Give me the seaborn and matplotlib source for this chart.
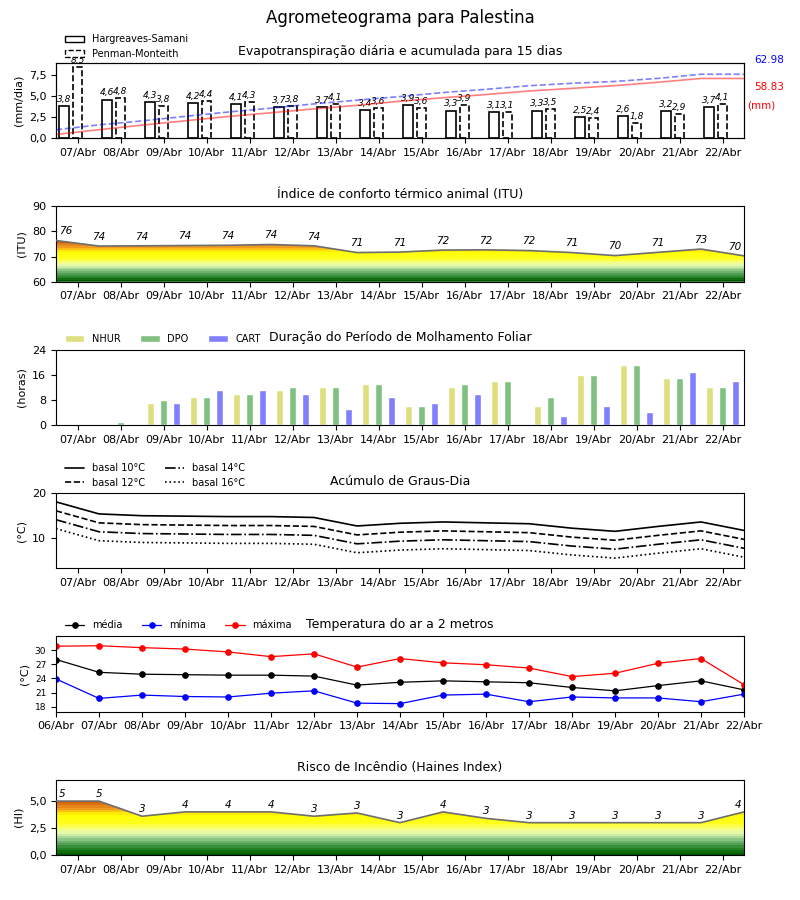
import numpy as np
import pandas as pd
import matplotlib
matplotlib.use('Agg')
import matplotlib.pyplot as plt
import seaborn as sns
from matplotlib.colors import LinearSegmentedColormap
from matplotlib.patches import Polygon, Patch
from matplotlib.ticker import FuncFormatter

# ---------------- data ----------------
days = ['07/Abr', '08/Abr', '09/Abr', '10/Abr', '11/Abr', '12/Abr', '13/Abr', '14/Abr',
        '15/Abr', '16/Abr', '17/Abr', '18/Abr', '19/Abr', '20/Abr', '21/Abr', '22/Abr']
temp_days = ['06/Abr'] + days

et_hs = [3.8, 4.6, 4.3, 4.2, 4.1, 3.7, 3.7, 3.4, 3.9, 3.3, 3.1, 3.3, 2.5, 2.6, 3.2, 3.7]
et_pm = [8.5, 4.8, 3.8, 4.4, 4.3, 3.8, 4.1, 3.6, 3.6, 3.9, 3.1, 3.5, 2.4, 1.8, 2.9, 4.1]
cum_hs = [3.9, 8.6, 13.0, 17.3, 21.5, 25.2, 29.0, 32.5, 36.5, 39.9, 43.1, 46.5, 49.1, 51.8, 55.1, 58.83]
cum_pm = [8.5, 13.3, 17.2, 21.6, 25.9, 29.7, 33.9, 37.5, 41.1, 45.0, 48.2, 51.7, 54.1, 55.9, 58.9, 62.98]

itu = [76.4, 74.2, 74.3, 74.4, 74.5, 74.8, 74.3, 71.6, 71.8, 72.6, 72.7, 72.4, 71.6, 70.4, 71.7, 73.0, 70.3]

nhur = [0, 0, 7, 9, 10, 11, 12, 13, 6, 12, 14, 6, 16, 19, 15, 12]
dpo = [0, 1, 8, 9, 10, 12, 12, 13, 6, 13, 14, 9, 16, 19, 15, 12]
cart = [0, 0, 7, 11, 11, 10, 5, 9, 7, 10, 0, 3, 6, 4, 17, 14]

gd10 = [18.0, 15.3, 14.9, 14.8, 14.7, 14.7, 14.5, 12.6, 13.2, 13.5, 13.3, 13.1, 12.1, 11.4, 12.5, 13.5, 11.6]
gd12 = [16.0, 13.3, 12.9, 12.8, 12.7, 12.7, 12.5, 10.6, 11.2, 11.5, 11.3, 11.1, 10.1, 9.4, 10.5, 11.5, 9.6]
gd14 = [14.0, 11.3, 10.9, 10.8, 10.7, 10.7, 10.5, 8.6, 9.2, 9.5, 9.3, 9.1, 8.1, 7.4, 8.5, 9.5, 7.6]
gd16 = [12.0, 9.3, 8.9, 8.8, 8.7, 8.7, 8.5, 6.6, 7.2, 7.5, 7.3, 7.1, 6.1, 5.4, 6.5, 7.5, 5.6]

t_med = [28.0, 25.3, 24.9, 24.8, 24.7, 24.7, 24.5, 22.6, 23.2, 23.5, 23.3, 23.1, 22.1, 21.4, 22.5, 23.5, 21.6]
t_min = [23.9, 19.8, 20.5, 20.2, 20.1, 20.9, 21.4, 18.8, 18.7, 20.5, 20.7, 19.1, 20.1, 19.9, 19.9, 19.1, 20.7]
t_max = [30.8, 30.9, 30.5, 30.2, 29.6, 28.6, 29.2, 26.4, 28.2, 27.3, 26.9, 26.2, 24.4, 25.1, 27.2, 28.2, 22.7]

haines = [5.0, 5.0, 3.6, 4.0, 4.0, 4.0, 3.6, 3.9, 3.0, 4.0, 3.4, 3.0, 3.0, 3.0, 3.0, 3.0, 4.0]

# ---------------- style ----------------
sns.set_style('ticks', rc={'axes.edgecolor': 'black', 'xtick.color': 'black',
                           'ytick.color': 'black', 'axes.labelcolor': 'black',
                           'text.color': 'black', 'axes.linewidth': 1.0})
plt.rcParams['font.family'] = ['DejaVu Sans']

def br(v, _=None):
    return f"{v:.1f}".replace('.', ',')

nodes = [(0.00, '#005a00'), (0.08, '#1f7f1f'), (0.16, '#47994a'), (0.25, '#82c07f'),
         (0.33, '#c2e6a6'), (0.40, '#ecfca8'), (0.48, '#fbff70'), (0.55, '#ffff20'),
         (0.72, '#ffff00'), (0.77, '#ffcc10'), (0.82, '#f2a020'), (0.90, '#e07818'),
         (1.00, '#c85000')]
cmap = LinearSegmentedColormap.from_list('risk', nodes, N=24)

def gradient_fill(ax, x, y, base, top):
    verts = [(x[0], base)] + list(zip(x, y)) + [(x[-1], base)]
    poly = Polygon(verts, closed=True, facecolor='none', edgecolor='none')
    ax.add_patch(poly)
    grad = np.linspace(0, 1, 256).reshape(-1, 1)
    im = ax.imshow(grad, extent=[x[0], x[-1], base, top], origin='lower',
                   aspect='auto', cmap=cmap, zorder=1, interpolation='nearest')
    im.set_clip_path(poly)

xd = np.arange(len(days))
xb = np.arange(len(days) + 1) - 0.5

fig, axes = plt.subplots(6, 1, figsize=(8, 9), dpi=100)
fig.subplots_adjust(left=0.07, right=0.93, bottom=0.05, top=0.93, hspace=0.9)
fig.suptitle('Agrometeograma para Palestina', fontsize=12, y=0.99)

def common_x(ax, ticks, labels):
    ax.set_xlim(-0.5, 15.5)
    ax.set_xticks(ticks)
    ax.set_xticklabels(labels, fontsize=8)
    ax.tick_params(axis='y', labelsize=8)
    ax.set_xlabel('')

tfs = 9
lfs = 7
LX = 0.0044

# ---- Panel 1: Evapotranspiração ----
ax = axes[0]
ax.bar(xd - 0.31, et_hs, width=0.22, facecolor='white', edgecolor='black', lw=1.2, zorder=2)
ax.bar(xd, et_pm, width=0.22, facecolor='white', edgecolor='black', lw=1.2, ls='--', zorder=2)
for x, v in zip(xd - 0.31, et_hs):
    ax.annotate(br(v), (x, v), xytext=(0, 1.5), textcoords='offset points',
                ha='center', va='bottom', fontsize=6.5, style='italic')
for x, v in zip(xd, et_pm):
    ax.annotate(br(v), (x, v), xytext=(0, 1.5), textcoords='offset points',
                ha='center', va='bottom', fontsize=6.5, style='italic')
ax.set_ylim(0, 8.925)
ax.set_yticks([0, 2.5, 5.0, 7.5])
ax.yaxis.set_major_formatter(FuncFormatter(br))
ax.set_ylabel('(mm/dia)', fontsize=8)
common_x(ax, xd, days)
ax.set_title('Evapotranspiração diária e acumulada para 15 dias', fontsize=tfs)
handles = [Patch(facecolor='white', edgecolor='black', label='Hargreaves-Samani'),
           Patch(facecolor='white', edgecolor='black', linestyle='--', label='Penman-Monteith')]
ax.legend(handles=handles, loc='lower left', bbox_to_anchor=(LX, 0.973), frameon=False,
          fontsize=lfs, borderaxespad=0.2)
ax2 = ax.twinx()
xcum = np.append(xd - 0.5, 15.5)
sns.lineplot(x=xcum, y=cum_pm + [cum_pm[-1]], ax=ax2, color='blue', alpha=0.5, ls='--', lw=1.2)
sns.lineplot(x=xcum, y=cum_hs + [cum_hs[-1]], ax=ax2, color='red', alpha=0.5, lw=1.2)
ax2.set_ylim(0, 74)
ax2.set_yticks([])
ax2.set_ylabel('')
ax2.set_xlim(-0.5, 15.5)
ax.text(1.015, 1.04, f"{cum_pm[-1]:.2f}", transform=ax.transAxes, color='blue', fontsize=7.5,
        ha='left', va='center')
ax.text(1.015, 0.68, f"{cum_hs[-1]:.2f}", transform=ax.transAxes, color='red', fontsize=7.5,
        ha='left', va='center')
ax.text(1.004, 0.44, '(mm)', transform=ax.transAxes, color='red', fontsize=7.5,
        ha='left', va='center')

# ---- Panel 2: ITU ----
ax = axes[1]
gradient_fill(ax, xb, itu, 60, 77)
sns.lineplot(x=xb, y=itu, ax=ax, color='#6e6e6e', lw=1.2, zorder=3)
n = len(itu)
for i, (x, v) in enumerate(zip(xb, itu)):
    ha, dx = ('left', 2) if i == 0 else (('right', -2) if i == n - 1 else ('center', 0))
    ax.annotate(str(int(v)), (x, v), xytext=(dx, 3), textcoords='offset points',
                ha=ha, va='bottom', fontsize=7.5, style='italic')
ax.set_ylim(60, 90)
ax.set_yticks([60, 70, 80, 90])
ax.set_ylabel('(ITU)', fontsize=8)
common_x(ax, xd, days)
ax.set_title('Índice de conforto térmico animal (ITU)', fontsize=tfs)

# ---- Panel 3: Molhamento foliar ----
ax = axes[2]
df = pd.DataFrame({'dia': days * 3, 'horas': nhur + dpo + cart,
                   'serie': ['NHUR'] * 16 + ['DPO'] * 16 + ['CART'] * 16})
sns.barplot(data=df, x='dia', y='horas', hue='serie', order=days,
            hue_order=['NHUR', 'DPO', 'CART'], palette=['#dfdf80', '#80c080', '#8080ff'],
            width=0.9, gap=0.47, saturation=1, errorbar=None, ax=ax)
h, l = ax.get_legend_handles_labels()
ax.legend(h, l, ncol=3, loc='lower left', bbox_to_anchor=(LX, 1.0), frameon=False,
          fontsize=lfs, borderaxespad=0.2)
ax.set_ylim(0, 24)
ax.set_yticks([0, 8, 16, 24])
ax.set_ylabel('(horas)', fontsize=8)
common_x(ax, xd, days)
ax.set_title('Duração do Período de Molhamento Foliar', fontsize=tfs)

# ---- Panel 4: Graus-dia ----
ax = axes[3]
for vals, ls, lab in [(gd10, '-', 'basal 10°C'), (gd12, '--', 'basal 12°C'),
                      (gd14, '-.', 'basal 14°C'), (gd16, ':', 'basal 16°C')]:
    sns.lineplot(x=xb, y=vals, ax=ax, color='black', ls=ls, lw=1.2, label=lab)
ax.legend(ncol=2, loc='lower left', bbox_to_anchor=(LX, 0.99), frameon=False,
          fontsize=lfs, borderaxespad=0.2)
ax.set_ylim(3.1, 20)
ax.set_yticks([10, 20])
ax.set_ylabel('(°C)', fontsize=8)
common_x(ax, xd, days)
ax.set_title('Acúmulo de Graus-Dia', fontsize=tfs)

# ---- Panel 5: Temperatura ----
ax = axes[4]
for vals, c, lab in [(t_med, 'black', 'média'), (t_min, 'blue', 'mínima'), (t_max, 'red', 'máxima')]:
    sns.lineplot(x=xb, y=vals, ax=ax, color=c, lw=0.9, marker='o', markersize=4,
                 markeredgecolor=c, label=lab)
ax.legend(ncol=3, loc='lower left', bbox_to_anchor=(LX, 1.0), frameon=False,
          fontsize=lfs, borderaxespad=0.2)
ax.set_ylim(17, 32.9)
ax.set_yticks([18, 21, 24, 27, 30])
ax.set_ylabel('(°C)', fontsize=8)
common_x(ax, xb, temp_days)
ax.tick_params(axis='y', labelsize=6.5)
ax.set_title('Temperatura do ar a 2 metros', fontsize=tfs)

# ---- Panel 6: Haines ----
ax = axes[5]
gradient_fill(ax, xb, haines, 0, 5.2)
sns.lineplot(x=xb, y=haines, ax=ax, color='#6e6e6e', lw=1.2, zorder=3)
n = len(haines)
for i, (x, v) in enumerate(zip(xb, haines)):
    ha, dx = ('left', 2) if i == 0 else (('right', -2) if i == n - 1 else ('center', 0))
    ax.annotate(str(int(v)), (x, v), xytext=(dx, 1.5), textcoords='offset points',
                ha=ha, va='bottom', fontsize=7.5, style='italic')
ax.set_ylim(0, 7)
ax.set_yticks([0, 2.5, 5.0])
ax.yaxis.set_major_formatter(FuncFormatter(br))
ax.set_ylabel('(HI)', fontsize=8)
common_x(ax, xd, days)
ax.set_title('Risco de Incêndio (Haines Index)', fontsize=tfs)

fig.savefig('out.png', dpi=100)
